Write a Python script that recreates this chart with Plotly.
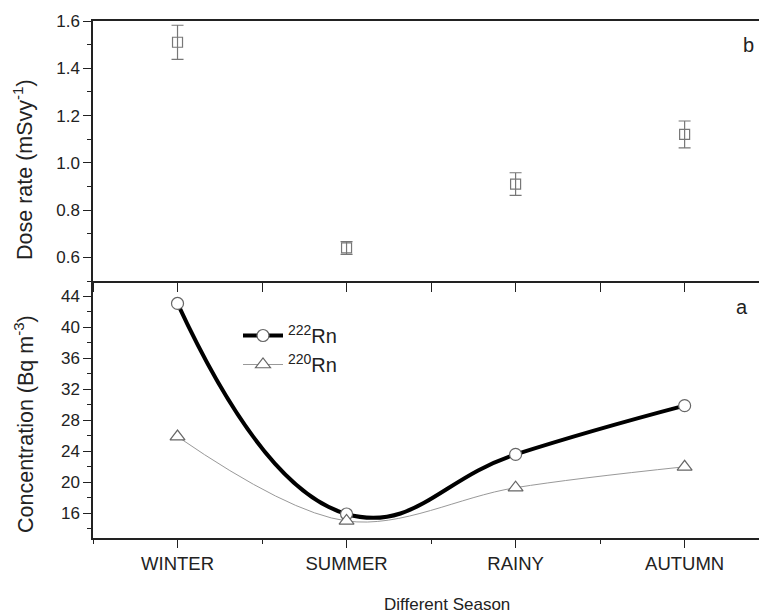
import plotly.graph_objects as go

seasons = ["WINTER", "SUMMER", "RAINY", "AUTUMN"]
season_pos = [1, 2, 3, 4]

dose_rate = [1.51, 0.64, 0.91, 1.12]
dose_err = [0.072, 0.027, 0.048, 0.057]

rn222 = [43.1, 15.9, 23.6, 29.9]
rn220 = [25.9, 15.0, 19.3, 22.0]

FONT = "Liberation Sans, Arial, sans-serif"
TXT = "#222222"

fig = go.Figure()

# top panel (b)
fig.add_trace(go.Scatter(
    x=season_pos, y=dose_rate, mode="markers",
    marker=dict(symbol="square-open", size=10, color="#777777", line=dict(width=1.2)),
    error_y=dict(type="data", array=dose_err, visible=True, color="#777777", thickness=1.2, width=6),
    xaxis="x2", yaxis="y2", showlegend=False,
))

# bottom panel (a)
fig.add_trace(go.Scatter(
    x=season_pos, y=rn222, mode="lines+markers", name="<sup>222</sup>Rn",
    line=dict(color="black", width=4, shape="spline", smoothing=1.3),
    marker=dict(symbol="circle", size=12, color="white", line=dict(color="#666666", width=1.2)),
    xaxis="x", yaxis="y",
))
fig.add_trace(go.Scatter(
    x=season_pos, y=rn220, mode="lines+markers", name="<sup>220</sup>Rn",
    line=dict(color="#999999", width=1, shape="spline", smoothing=1.0),
    marker=dict(symbol="triangle-up", size=13, color="white", line=dict(color="#666666", width=1.2)),
    xaxis="x", yaxis="y",
))

L, R, T, B = 93, 0, 21, 75
W, H = 759 - L - R, 613 - T - B
split = 257 / H
xr = [0.5, 4.44]


def px(x):
    return (x - L) / W


def py(y):
    return (613 - B - y) / H


tick_common = dict(ticks="outside", tickwidth=1.2, tickcolor=TXT, showgrid=False, zeroline=False,
                   showline=True, linecolor=TXT, linewidth=1.5)


def ann(text, x, y, size, angle=0):
    return dict(text=text, x=px(x), y=py(y), xref="paper", yref="paper", showarrow=False,
                xanchor="center", yanchor="middle", textangle=angle,
                font=dict(size=size, family=FONT, color=TXT))


fig.update_layout(
    width=759, height=613,
    margin=dict(l=L, r=R, t=T, b=B),
    plot_bgcolor="white", paper_bgcolor="white",
    font=dict(family=FONT, color=TXT),
    xaxis=dict(
        domain=[0, 1], range=xr, anchor="y",
        tickmode="array", tickvals=season_pos, ticktext=seasons, ticklen=8,
        minor=dict(tickmode="array", tickvals=[0.5, 1.5, 2.5, 3.5], ticks="outside", ticklen=4, tickwidth=1.2, tickcolor=TXT),
        tickfont=dict(size=18.5, family=FONT, color=TXT),
        **tick_common,
    ),
    yaxis=dict(
        domain=[0, split], range=[12.8, 46], anchor="x",
        tickmode="array", tickvals=[16, 20, 24, 28, 32, 36, 40, 44], ticklen=8,
        minor=dict(tickmode="array", tickvals=[14, 18, 22, 26, 30, 34, 38, 42, 46], ticks="outside", ticklen=4, tickwidth=1.2, tickcolor=TXT),
        tickfont=dict(size=17, family=FONT, color=TXT),
        **tick_common,
    ),
    xaxis2=dict(
        domain=[0, 1], range=xr, anchor="y2",
        tickmode="array", tickvals=season_pos, showticklabels=False, ticklen=9, mirror=True,
        minor=dict(tickmode="array", tickvals=[0.5, 1.5, 2.5, 3.5], ticks="outside", ticklen=9, tickwidth=1.2, tickcolor=TXT),
        **tick_common,
    ),
    yaxis2=dict(
        domain=[split, 1], range=[0.5, 1.6], anchor="x2",
        tickmode="array", tickvals=[0.6, 0.8, 1.0, 1.2, 1.4, 1.6],
        ticktext=["0.6", "0.8", "1.0", "1.2", "1.4", "1.6"], ticklen=8,
        minor=dict(tickmode="array", tickvals=[0.5, 0.7, 0.9, 1.1, 1.3, 1.5], ticks="outside", ticklen=4, tickwidth=1.2, tickcolor=TXT),
        tickfont=dict(size=17, family=FONT, color=TXT),
        **tick_common,
    ),
    legend=dict(
        x=px(238), y=py(316), xanchor="left", yanchor="top",
        bgcolor="rgba(0,0,0,0)", font=dict(size=20, family=FONT, color=TXT),
        itemwidth=40, tracegroupgap=0,
    ),
    annotations=[
        ann("b", 748, 45, 20),
        ann("a", 742, 307, 20),
        ann("Dose rate (mSvy<sup>-1</sup>)", 23, 170, 21.5, -90),
        ann("Concentration (Bq m<sup>-3</sup>)", 24, 424, 21.5, -90),
        ann("Different Season", 447, 604, 17),
    ],
)

fig.write_html("out.html")
